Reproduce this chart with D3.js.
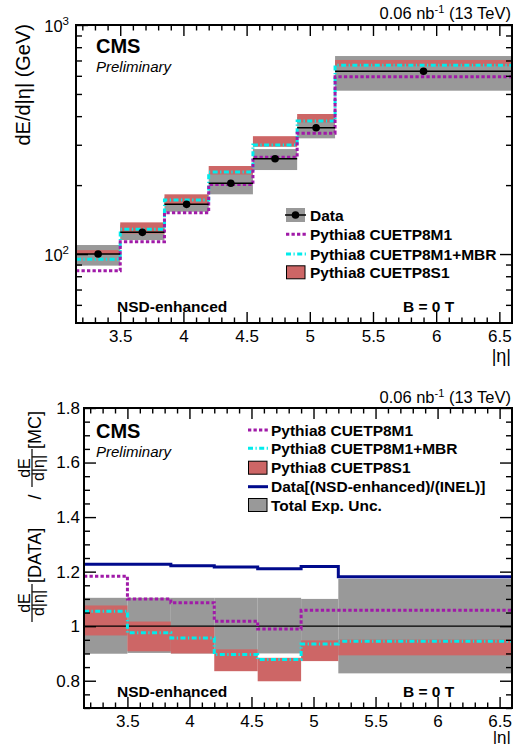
<!DOCTYPE html>
<html>
<head>
<meta charset="utf-8">
<script src="https://cdn.jsdelivr.net/npm/d3@7"></script>
<style>
  body { margin: 0; background: #fff; }
  svg { font-family: "Liberation Sans", Arial, sans-serif; }
</style>
</head>
<body>
<script>
// |eta| bins (CASTOR range)
const binEdges = [3.15, 3.5, 3.85, 4.2, 4.55, 4.9, 5.2, 6.6];
const xTicks = [3.5, 4, 4.5, 5, 5.5, 6, 6.5];

// top panel: dE/d|eta| (GeV)
const dataVal = [100, 124.4, 164.8, 203.6, 260.8, 356, 628];
const dataLo = [89, 115.1, 153, 182.3, 232.7, 320, 516.6];
const dataHi = [109.5, 134.5, 177, 225, 287.3, 396, 732];
const p8m1 = [84.5, 113.2, 151.5, 201, 264.5, 336.6, 594.6];
const p8m1mbr = [94.8, 128.2, 172.1, 228.1, 299.2, 380.9, 666.8];
const p8s1Lo = [100, 122.9, 165, 222.5, 294, 375.5, 660];
const p8s1Hi = [104, 137.5, 182.3, 242.3, 327, 408.7, 703.5];

// bottom panel: ratio DATA / MC
const ratioP8M1 = [1.183, 1.10, 1.086, 1.018, 0.99, 1.058, 1.058];
const ratioMBR = [1.055, 0.976, 0.957, 0.896, 0.878, 0.935, 0.945];
const ratioS1Lo = [0.966, 0.908, 0.90, 0.835, 0.798, 0.872, 0.893];
const ratioS1Hi = [1.076, 1.017, 0.998, 0.915, 0.884, 0.948, 0.951];
const ratioNSD = [1.227, 1.227, 1.222, 1.217, 1.211, 1.219, 1.181];
const uncLo = [0.899, 0.902, 0.90, 0.90, 0.90, 0.896, 0.827];
const uncHi = [1.104, 1.104, 1.104, 1.104, 1.104, 1.10, 1.174];
const ratioTicks = [0.8, 1, 1.2, 1.4, 1.6, 1.8];

const W = 521, H = 744;
const colGray = "#999999", colRed = "#cd6666", colMag = "#a01aa8",
      colCyan = "#00ecec", colBlue = "#000a8c";
const magDash = "3.3,2.2", cyanDash = "5,2.5,1.2,2.5";

const svg = d3.select("body").append("svg").attr("width", W).attr("height", H);

const bins = d3.range(binEdges.length - 1);
const stepPts = (vals) => vals.flatMap((v, i) => [[binEdges[i], v], [binEdges[i + 1], v]]);

// minor tick values along x
const xMinor = d3.range(32, 66).map((d) => d / 10).filter((d) => !xTicks.includes(d));

function frameTicks(g, x, y, yMajor, yMinor, p) {
  const tick = (axis, vals, size) => g.append("g").call(axis.tickValues(vals).tickSize(-size).tickFormat(""))
    .call((s) => s.select(".domain").remove())
    .call((s) => s.selectAll("line").attr("stroke-width", 1.4));
  const put = (sel, t) => sel.attr("transform", t);
  put(tick(d3.axisBottom(x), xTicks, 11), `translate(0,${p.bottom})`);
  put(tick(d3.axisBottom(x), xMinor, 5.5), `translate(0,${p.bottom})`);
  put(tick(d3.axisTop(x), xTicks, 11), `translate(0,${p.top})`);
  put(tick(d3.axisTop(x), xMinor, 5.5), `translate(0,${p.top})`);
  put(tick(d3.axisLeft(y), yMajor, 12), `translate(${p.left},0)`);
  put(tick(d3.axisLeft(y), yMinor, 6), `translate(${p.left},0)`);
  put(tick(d3.axisRight(y), yMajor, 12), `translate(${p.right},0)`);
  put(tick(d3.axisRight(y), yMinor, 6), `translate(${p.right},0)`);
  // x labels
  g.append("g").attr("transform", `translate(0,${p.bottom})`)
    .call(d3.axisBottom(x).tickValues(xTicks).tickSize(0).tickPadding(7).tickFormat(d3.format("")))
    .call((s) => s.select(".domain").remove())
    .selectAll("text").attr("font-size", 17).attr("fill", "#000").attr("font-family", "Liberation Sans, Arial, sans-serif");
  g.append("rect").attr("x", p.left).attr("y", p.top)
    .attr("width", p.right - p.left).attr("height", p.bottom - p.top)
    .attr("fill", "none").attr("stroke", "#000").attr("stroke-width", 2);
}

function lumiText(y) {
  const t = svg.append("text").attr("x", 511).attr("y", y).attr("text-anchor", "end").attr("font-size", 16.5);
  t.append("tspan").text("0.06 nb");
  t.append("tspan").attr("dy", -6).attr("font-size", 11).text("-1");
  t.append("tspan").attr("dy", 6).text(" (13 TeV)");
}

function label(x, y, txt, opts = {}) {
  return svg.append("text").attr("x", x).attr("y", y)
    .attr("font-size", opts.size || 15.5)
    .attr("font-weight", opts.weight || "bold")
    .attr("font-style", opts.style || "normal")
    .attr("text-anchor", opts.anchor || "start")
    .text(txt);
}

// ================= TOP PANEL =================
const pT = { left: 76, right: 512, top: 25, bottom: 323 };
const xT = d3.scaleLinear().domain([3.15, 6.6]).range([pT.left, pT.right]);
const yT = d3.scaleLog().domain([50, 1000]).range([pT.bottom, pT.top]);
const gT = svg.append("g");

gT.selectAll("rect.unc").data(bins).enter().append("rect")
  .attr("x", (i) => xT(binEdges[i])).attr("width", (i) => xT(binEdges[i + 1]) - xT(binEdges[i]))
  .attr("y", (i) => yT(dataHi[i])).attr("height", (i) => yT(dataLo[i]) - yT(dataHi[i]))
  .attr("fill", colGray);
gT.selectAll("rect.s1").data(bins).enter().append("rect")
  .attr("x", (i) => xT(binEdges[i])).attr("width", (i) => xT(binEdges[i + 1]) - xT(binEdges[i]))
  .attr("y", (i) => yT(p8s1Hi[i])).attr("height", (i) => yT(p8s1Lo[i]) - yT(p8s1Hi[i]))
  .attr("fill", colRed);

const lineT = d3.line().x((d) => xT(d[0])).y((d) => yT(d[1]));
gT.append("path").attr("d", lineT(stepPts(p8m1mbr))).attr("fill", "none")
  .attr("stroke", colCyan).attr("stroke-width", 3).attr("stroke-dasharray", cyanDash);
gT.append("path").attr("d", lineT(stepPts(p8m1))).attr("fill", "none")
  .attr("stroke", colMag).attr("stroke-width", 3).attr("stroke-dasharray", magDash);

gT.selectAll("line.data").data(bins).enter().append("line")
  .attr("x1", (i) => xT(binEdges[i])).attr("x2", (i) => xT(binEdges[i + 1]))
  .attr("y1", (i) => yT(dataVal[i])).attr("y2", (i) => yT(dataVal[i]))
  .attr("stroke", "#000").attr("stroke-width", 1.5);
gT.selectAll("circle").data(bins).enter().append("circle")
  .attr("cx", (i) => xT((binEdges[i] + binEdges[i + 1]) / 2)).attr("cy", (i) => yT(dataVal[i]))
  .attr("r", 3.8).attr("fill", "#000");

const logMinor = [60, 70, 80, 90, 200, 300, 400, 500, 600, 700, 800, 900];
frameTicks(gT, xT, yT, [100, 1000], logMinor, pT);

// y labels 10^2, 10^3
[[100, "2"], [1000, "3"]].forEach(([v, e]) => {
  const t = svg.append("text").attr("x", 69).attr("y", yT(v) + 7).attr("text-anchor", "end").attr("font-size", 16.5);
  t.append("tspan").text("10");
  t.append("tspan").attr("dy", -7).attr("font-size", 11.5).text(e);
});

svg.append("text").attr("transform", "translate(30,24) rotate(-90)")
  .attr("text-anchor", "end").attr("font-size", 20).text("dE/d|η| (GeV)");
label(511, 362, "|η|", { size: 18, weight: "normal", anchor: "end" });
lumiText(19);
label(96, 53, "CMS", { size: 20 });
label(96, 72, "Preliminary", { size: 15, weight: "normal", style: "italic" });
label(117, 312, "NSD-enhanced");
label(403, 312, "B = 0 T");

// top legend
const lgT = [215, 234.3, 254, 272.3];
svg.append("rect").attr("x", 286).attr("y", lgT[0] - 7).attr("width", 19).attr("height", 14).attr("fill", colGray);
svg.append("line").attr("x1", 285).attr("x2", 306).attr("y1", lgT[0]).attr("y2", lgT[0]).attr("stroke", "#000").attr("stroke-width", 1.5);
svg.append("circle").attr("cx", 295.5).attr("cy", lgT[0]).attr("r", 3.8).attr("fill", "#000");
svg.append("line").attr("x1", 286).attr("x2", 306).attr("y1", lgT[1]).attr("y2", lgT[1])
  .attr("stroke", colMag).attr("stroke-width", 3).attr("stroke-dasharray", magDash);
svg.append("line").attr("x1", 286).attr("x2", 306).attr("y1", lgT[2]).attr("y2", lgT[2])
  .attr("stroke", colCyan).attr("stroke-width", 3).attr("stroke-dasharray", cyanDash);
svg.append("rect").attr("x", 286.5).attr("y", lgT[3] - 6.5).attr("width", 18.5).attr("height", 13)
  .attr("fill", colRed).attr("stroke", "#000").attr("stroke-width", 1);
["Data", "Pythia8 CUETP8M1", "Pythia8 CUETP8M1+MBR", "Pythia8 CUETP8S1"].forEach((s, i) =>
  label(310, lgT[i] + 5.5, s, { size: 15.5 }));

// ================= BOTTOM PANEL =================
const pB = { left: 84, right: 512, top: 408, bottom: 708 };
const xB = d3.scaleLinear().domain([3.15, 6.6]).range([pB.left, pB.right]);
const yB = d3.scaleLinear().domain([0.7, 1.8]).range([pB.bottom, pB.top]);
const gB = svg.append("g");

gB.selectAll("rect.unc").data(bins).enter().append("rect")
  .attr("x", (i) => xB(binEdges[i])).attr("width", (i) => xB(binEdges[i + 1]) - xB(binEdges[i]))
  .attr("y", (i) => yB(uncHi[i])).attr("height", (i) => yB(uncLo[i]) - yB(uncHi[i]))
  .attr("fill", colGray);
gB.selectAll("rect.s1").data(bins).enter().append("rect")
  .attr("x", (i) => xB(binEdges[i])).attr("width", (i) => xB(binEdges[i + 1]) - xB(binEdges[i]))
  .attr("y", (i) => yB(ratioS1Hi[i])).attr("height", (i) => yB(ratioS1Lo[i]) - yB(ratioS1Hi[i]))
  .attr("fill", colRed);

gB.append("line").attr("x1", pB.left).attr("x2", pB.right).attr("y1", yB(1)).attr("y2", yB(1))
  .attr("stroke", "#000").attr("stroke-width", 1.2);

const lineB = d3.line().x((d) => xB(d[0])).y((d) => yB(d[1]));
gB.append("path").attr("d", lineB(stepPts(ratioMBR))).attr("fill", "none")
  .attr("stroke", colCyan).attr("stroke-width", 3).attr("stroke-dasharray", cyanDash);
gB.append("path").attr("d", lineB(stepPts(ratioP8M1))).attr("fill", "none")
  .attr("stroke", colMag).attr("stroke-width", 3).attr("stroke-dasharray", magDash);
gB.append("path").attr("d", lineB(stepPts(ratioNSD))).attr("fill", "none")
  .attr("stroke", colBlue).attr("stroke-width", 3);

const ratioMinor = d3.range(14, 36).map((d) => d / 20).filter((d) => !ratioTicks.some((t) => Math.abs(t - d) < 1e-6));
frameTicks(gB, xB, yB, ratioTicks, ratioMinor, pB);

gB.append("g").attr("transform", `translate(${pB.left},0)`)
  .call(d3.axisLeft(yB).tickValues(ratioTicks).tickSize(0).tickPadding(4).tickFormat((d) => d3.format("")(+d.toFixed(1))))
  .call((s) => s.select(".domain").remove())
  .selectAll("text").attr("font-size", 17).attr("fill", "#000").attr("font-family", "Liberation Sans, Arial, sans-serif");

// y title with fractions
const yt = svg.append("g").attr("transform", "translate(0,623) rotate(-90)").attr("font-size", 16);
function frac(cx) {
  yt.append("text").attr("x", cx).attr("y", 29.5).attr("text-anchor", "middle").text("dE");
  yt.append("line").attr("x1", cx - 19).attr("x2", cx + 19).attr("y1", 32).attr("y2", 32).attr("stroke", "#000").attr("stroke-width", 1.2);
  yt.append("text").attr("x", cx).attr("y", 44).attr("text-anchor", "middle").text("d|η|");
}
frac(20);
yt.append("text").attr("x", 40).attr("y", 41).attr("font-size", 18).text("[DATA]");
yt.append("text").attr("x", 126).attr("y", 41).attr("font-size", 18).attr("text-anchor", "middle").text("/");
frac(155);
yt.append("text").attr("x", 174).attr("y", 41).attr("font-size", 18).text("[MC]");

label(511, 743, "|η|", { size: 17, weight: "normal", anchor: "end" });
lumiText(403);
label(96, 438, "CMS", { size: 20 });
label(96, 456.5, "Preliminary", { size: 15, weight: "normal", style: "italic" });
label(117, 697, "NSD-enhanced");
label(403, 697, "B = 0 T");

// bottom legend
const lgB = [430, 448.3, 467.7, 486.7, 505];
svg.append("line").attr("x1", 248).attr("x2", 268).attr("y1", lgB[0]).attr("y2", lgB[0])
  .attr("stroke", colMag).attr("stroke-width", 3).attr("stroke-dasharray", magDash);
svg.append("line").attr("x1", 248).attr("x2", 268).attr("y1", lgB[1]).attr("y2", lgB[1])
  .attr("stroke", colCyan).attr("stroke-width", 3).attr("stroke-dasharray", cyanDash);
svg.append("rect").attr("x", 248.5).attr("y", lgB[2] - 6.5).attr("width", 18.5).attr("height", 13)
  .attr("fill", colRed).attr("stroke", "#000").attr("stroke-width", 1);
svg.append("line").attr("x1", 248).attr("x2", 268).attr("y1", lgB[3]).attr("y2", lgB[3])
  .attr("stroke", colBlue).attr("stroke-width", 3);
svg.append("rect").attr("x", 248.5).attr("y", lgB[4] - 6.5).attr("width", 18.5).attr("height", 13)
  .attr("fill", colGray).attr("stroke", "#000").attr("stroke-width", 1);
["Pythia8 CUETP8M1", "Pythia8 CUETP8M1+MBR", "Pythia8 CUETP8S1", "Data[(NSD-enhanced)/(INEL)]", "Total Exp. Unc."]
  .forEach((s, i) => label(271, lgB[i] + 5.5, s, { size: 15.5 }));
</script>
</body>
</html>
